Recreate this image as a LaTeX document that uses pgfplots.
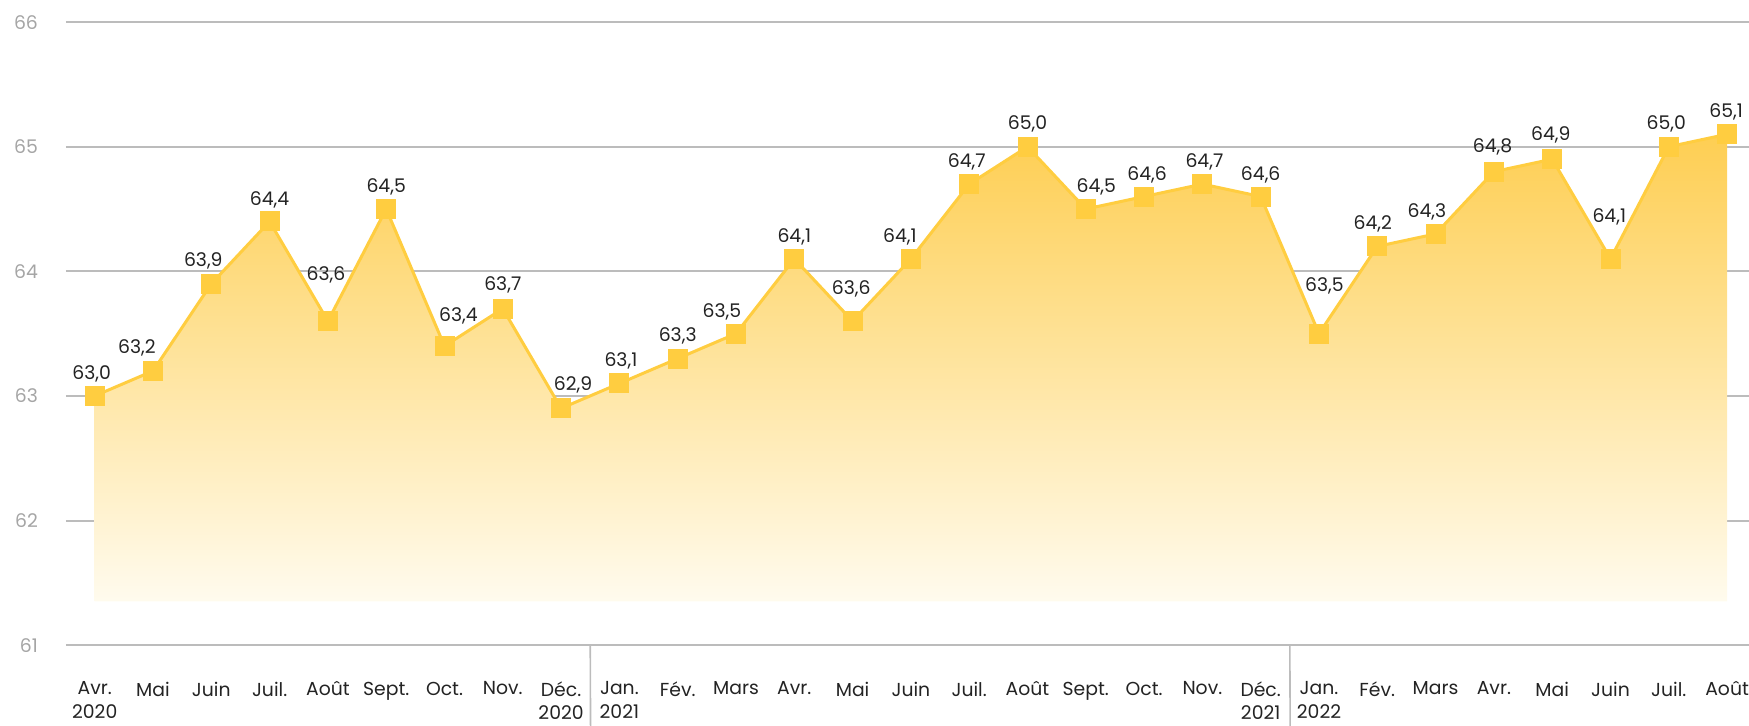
\documentclass[border=0pt]{standalone}
\usepackage{pgfplots}
\pgfplotsset{compat=1.18}
\usepackage{pgfplotstable}
\usepackage{fontspec}
\setmainfont{Poppins}
\definecolor{lineY}{RGB}{255,205,64}
\definecolor{fillTop}{RGB}{254,206,82}
\definecolor{fillBot}{RGB}{255,251,238}
\definecolor{gridG}{RGB}{188,188,188}
\definecolor{tickG}{RGB}{165,165,165}
\definecolor{txt}{RGB}{35,35,35}

\pgfplotstableread{
x y dx dy
0 63.0 -1.5 8.4
1 63.2 -8 8.8
2 63.9 -4 8.8
3 64.4 0 8.2
4 63.6 -1 20.3
5 64.5 0 8.1
6 63.4 7 12.3
7 63.7 0 9.3
8 62.9 6 8.8
9 63.1 0.75 8.4
10 63.3 0 8.4
11 63.5 -7 8.2
12 64.1 0 8.3
13 63.6 -0.7 13.1
14 64.1 -5.5 8.3
15 64.7 -1.2 8.4
16 65.0 0 8.5
17 64.5 5.25 8.4
18 64.6 1.5 8.0
19 64.7 1 8.4
20 64.6 0 8.0
21 63.5 2.75 21.3
22 64.2 -2.25 8.2
23 64.3 -4.35 8.3
24 64.8 -0.65 9.6
25 64.9 -0.7 9.3
26 64.1 -0.6 18.3
27 65.0 -1.25 8.8
28 65.1 -0.5 8.3
}\data

\newcommand{\lblfont}{\fontsize{9.4}{11.7}\selectfont}

\begin{document}
\begin{tikzpicture}
\begin{axis}[
  at={(0,0)}, anchor=south west,
  scale only axis, width=841.5pt, height=311.5pt,
  xmin=-0.4923, xmax=28.376, ymin=61, ymax=66,
  axis line style={draw=none},
  major tick length=0pt,
  ytick={61,62,...,66},
  ymajorgrids, grid style={gridG, line width=1pt},
  xtick={0,1,...,28},
  xticklabels={{Avr.\\2020},Mai,Juin,Juil.,Août,Sept.,Oct.,Nov.,{Déc.\\2020},{Jan.\\2021},Fév.,Mars,Avr.,Mai,Juin,Juil.,Août,Sept.,Oct.,Nov.,{Déc.\\2021},{Jan.\\2022},Fév.,Mars,Avr.,Mai,Juin,Juil.,Août},
  xticklabel style={align=center, font=\lblfont, text=txt, anchor=north, yshift=-14.8pt},
  yticklabel style={font=\lblfont, text=tickG, anchor=east, xshift=-10.5pt},
  clip=false,
  /pgf/number format/assume math mode=true,
]
\addplot[draw=none, top color=fillTop, bottom color=fillBot] coordinates {
 (0,61.35) (0,63.0) (1,63.2) (2,63.9) (3,64.4) (4,63.6) (5,64.5) (6,63.4) (7,63.7) (8,62.9)
 (9,63.1) (10,63.3) (11,63.5) (12,64.1) (13,63.6) (14,64.1) (15,64.7) (16,65.0) (17,64.5)
 (18,64.6) (19,64.7) (20,64.6) (21,63.5) (22,64.2) (23,64.3) (24,64.8) (25,64.9) (26,64.1)
 (27,65.0) (28,65.1) (28,61.35)} -- cycle;
\addplot[lineY, line width=1.5pt, mark=square*, mark size=4.25pt,
  mark options={draw=none, fill=lineY},
  point meta=explicit,
  visualization depends on={\thisrow{dx} \as \dx},
  visualization depends on={\thisrow{dy} \as \dy},
  nodes near coords={\pgfmathprintnumber[fixed, fixed zerofill, precision=1, use comma]{\pgfplotspointmeta}},
  nodes near coords style={anchor=base, xshift=\dx pt, yshift=\dy pt, font=\lblfont, text=txt, inner sep=0pt},
] table[x=x, y=y, meta=y] {\data};
\draw[gridG, line width=0.8pt] (axis cs:8.5,61) -- ++(0,-40pt);
\draw[gridG, line width=0.8pt] (axis cs:20.5,61) -- ++(0,-40pt);
\end{axis}
\pgfresetboundingbox
\path[use as bounding box] (-33pt,-40pt) rectangle (841.5pt,322.5pt);
\end{tikzpicture}
\end{document}
